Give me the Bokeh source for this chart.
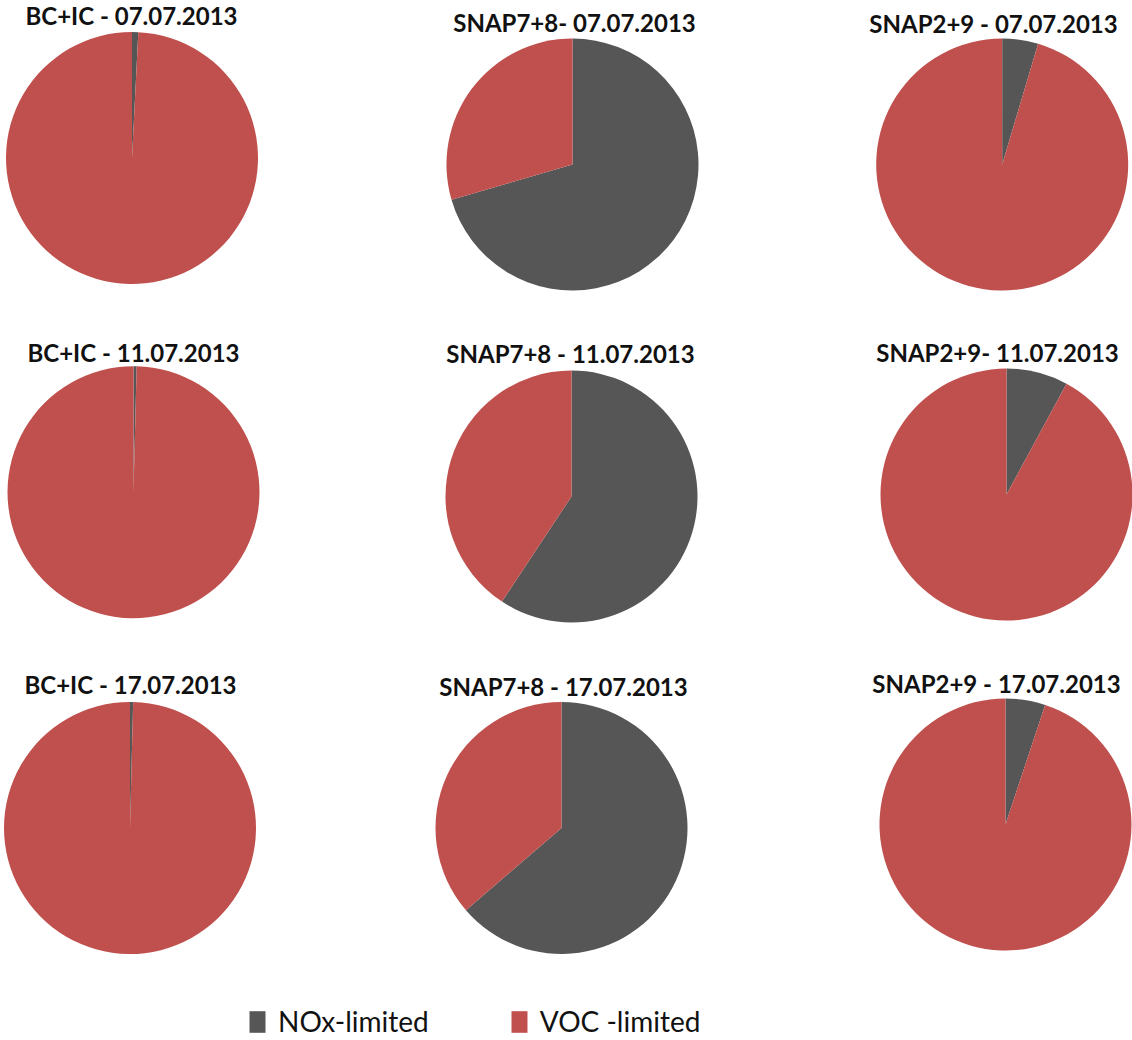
import math
from bokeh.plotting import figure
from bokeh.models import ColumnDataSource, Range1d, Legend, LegendItem
from bokeh.core.properties import value
from bokeh.embed import file_html
from bokeh.resources import INLINE

# ---- data (shares in %) ----
sources = ["BC+IC", "SNAP7+8", "SNAP2+9"]
dates = ["07.07.2013", "11.07.2013", "17.07.2013"]
titles = [
    ["BC+IC - 07.07.2013", "SNAP7+8- 07.07.2013", "SNAP2+9 - 07.07.2013"],
    ["BC+IC - 11.07.2013", "SNAP7+8 - 11.07.2013", "SNAP2+9- 11.07.2013"],
    ["BC+IC - 17.07.2013", "SNAP7+8 - 17.07.2013", "SNAP2+9 - 17.07.2013"],
]
nox_limited = [
    [0.8, 70.5, 4.6],
    [0.4, 59.3, 7.9],
    [0.4, 63.7, 5.1],
]
voc_limited = [[100 - v for v in row] for row in nox_limited]
legend_labels = ["NOx-limited", "VOC -limited"]

NOX_COLOR = "#565656"
VOC_COLOR = "#C0504D"

# ---- layout (page pixel positions) ----
W, H = 1132, 1040
centers = [
    [(131.5, 157.5), (572, 164), (1001.7, 164)],
    [(133, 491.7), (571, 496), (1006, 494)],
    [(129.5, 827.5), (561, 827.5), (1005, 824)],
]
radius = 126
title_pos = [
    [(131, 15), (574, 22), (993, 23)],
    [(133, 352), (570, 352.5), (997, 352)],
    [(130, 683.5), (563, 686), (996, 683)],
]

p = figure(width=W, height=H, output_backend="svg", toolbar_location=None,
           x_range=Range1d(0, W), y_range=Range1d(0, H),
           x_axis_type=None, y_axis_type=None, min_border=0)
p.grid.visible = False
p.outline_line_color = None
p.background_fill_color = "white"

nox = dict(x=[], y=[], start=[], end=[])
voc = dict(x=[], y=[], start=[], end=[])
tx = dict(x=[], y=[], text=[])
for i in range(3):
    for j in range(3):
        cx, cy = centers[i][j]
        yd = H - cy
        total = nox_limited[i][j] + voc_limited[i][j]
        ang = 2 * math.pi * nox_limited[i][j] / total
        top = math.pi / 2
        nox["x"].append(cx); nox["y"].append(yd)
        nox["start"].append(top - ang); nox["end"].append(top)
        voc["x"].append(cx); voc["y"].append(yd)
        voc["start"].append(top); voc["end"].append(top - ang + 2 * math.pi)
        tx_x, tx_y = title_pos[i][j]
        tx["x"].append(tx_x); tx["y"].append(H - tx_y); tx["text"].append(titles[i][j])

r_nox = p.wedge(x="x", y="y", radius=radius, start_angle="start", end_angle="end",
                source=ColumnDataSource(nox), fill_color=NOX_COLOR, line_color=None)
r_voc = p.wedge(x="x", y="y", radius=radius, start_angle="start", end_angle="end",
                source=ColumnDataSource(voc), fill_color=VOC_COLOR, line_color=None)

p.text(x="x", y="y", text="text", source=ColumnDataSource(tx),
       text_font=value("Lato"), text_font_style="bold", text_font_size="24px",
       text_align="center", text_baseline="middle", text_color="#111111")

legend = Legend(items=[LegendItem(label=legend_labels[0], renderers=[r_nox]),
                       LegendItem(label=legend_labels[1], renderers=[r_voc])],
                orientation="horizontal", location=(247, 2),
                label_text_font="Lato", label_text_font_size="28px",
                label_text_color="#111111",
                glyph_width=20, glyph_height=27, label_standoff=11, spacing=80,
                padding=0, margin=0, border_line_color=None,
                background_fill_alpha=0)
p.add_layout(legend, "center")

open("out.html", "w").write(file_html(p, INLINE))
